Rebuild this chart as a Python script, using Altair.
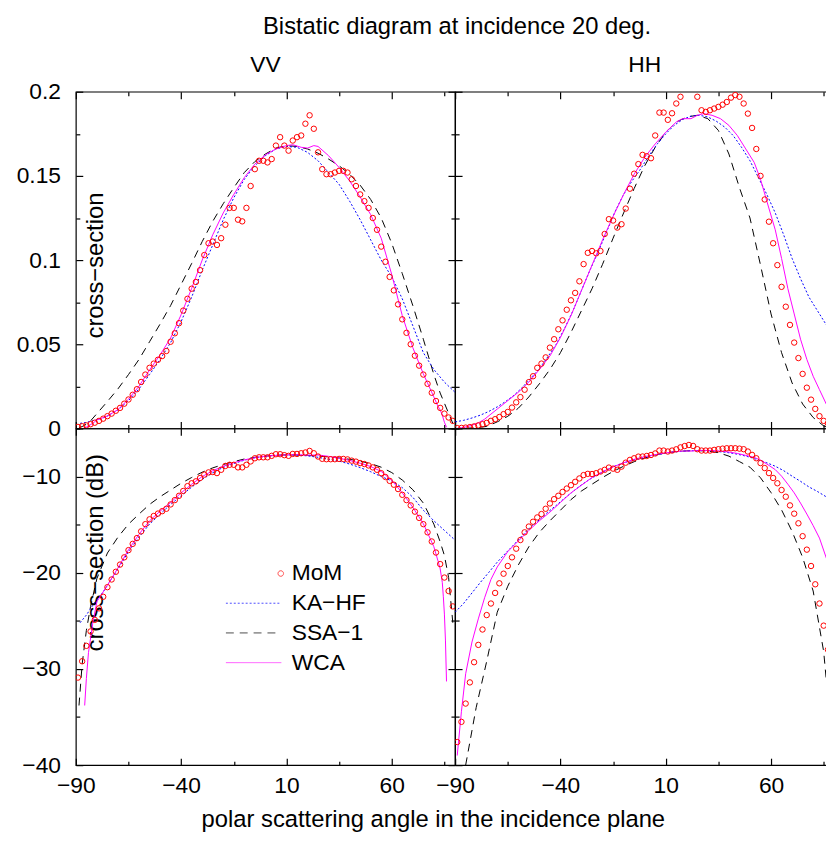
import altair as alt
import pandas as pd

FONT = "Liberation Sans"
RED, BLUE, BLACK, MAGENTA = "#ff0000", "#0000ff", "#000000", "#ff00ff"
SERIES = ["MoM", "KA−HF", "SSA−1", "WCA"]

MOM_ANGLE = [-89, -87, -85, -83, -81, -79, -77, -75, -73, -71,
             -69, -67, -65, -63, -61, -59, -57, -55, -53, -51,
             -49, -47, -45, -43, -41, -39, -37, -35, -33, -31,
             -29, -27, -25, -23, -21, -19, -17, -15, -13, -11,
             -9, -7, -5, -3, -1, 1, 3, 5, 7, 9,
             11, 13, 15, 17, 19, 21, 23, 25, 27, 29,
             31, 33, 35, 37, 39, 41, 43, 45, 47, 49,
             51, 53, 55, 57, 59, 61, 63, 65, 67, 69,
             71, 73, 75, 77, 79, 81, 83, 85, 87, 89]

VV_MOM_LIN = [0.0009, 0.0013, 0.0018, 0.0025, 0.0034, 0.0045, 0.0058, 0.0073, 0.0088, 0.0105,
              0.0122, 0.0147, 0.0172, 0.0200, 0.0233, 0.0276, 0.0320, 0.0360, 0.0385, 0.0408,
              0.0430, 0.0460, 0.0515, 0.0565, 0.0625, 0.0700, 0.0770, 0.0830, 0.0870, 0.0940,
              0.1030, 0.1100, 0.1110, 0.1090, 0.1130, 0.1210, 0.1310, 0.1310, 0.1240, 0.1230,
              0.1310, 0.1440, 0.1540, 0.1590, 0.1590, 0.1580, 0.1600, 0.1680, 0.1730, 0.1680,
              0.1650, 0.1710, 0.1730, 0.1740, 0.1810, 0.1860, 0.1780, 0.1640, 0.1540, 0.1510,
              0.1510, 0.1520, 0.1530, 0.1530, 0.1520, 0.1480, 0.1440, 0.1390, 0.1350, 0.1310,
              0.1250, 0.1180, 0.1080, 0.0990, 0.0900, 0.0820, 0.0737, 0.0648, 0.0568, 0.0500,
              0.0432, 0.0373, 0.0320, 0.0265, 0.0212, 0.0163, 0.0122, 0.0088, 0.0065, 0.0045]

VV_MOM_DB = [-30.9, -29.2, -27.6, -26.1, -24.9, -23.7, -22.5, -21.5, -20.7, -19.9,
             -19.15, -18.4, -17.65, -17.0, -16.4, -15.7, -14.95, -14.45, -14.1, -13.85,
             -13.6, -13.35, -12.9, -12.45, -12.0, -11.5, -11.0, -10.7, -10.5, -10.15,
             -9.8, -9.57, -9.53, -9.64, -9.3, -8.9, -8.78, -8.78, -9.05, -9.05,
             -8.78, -8.43, -8.1, -8.0, -8.0, -8.0, -7.85, -7.68, -7.68, -7.78,
             -7.85, -7.65, -7.65, -7.58, -7.5, -7.34, -7.58, -7.92, -8.16, -8.2,
             -8.2, -8.2, -8.17, -8.17, -8.22, -8.35, -8.45, -8.6, -8.7, -8.85,
             -9.05, -9.3, -9.65, -10.05, -10.45, -10.85, -11.3, -11.9, -12.45, -13.0,
             -13.65, -14.3, -14.95, -15.8, -16.75, -17.9, -19.1, -20.5, -21.9, -23.5]

HH_MOM_LIN = [0.0002, 0.0003, 0.0005, 0.0008, 0.0012, 0.0018, 0.0025, 0.0033, 0.0045, 0.0055,
              0.0068, 0.0085, 0.0098, 0.0124, 0.0155, 0.0186, 0.0230, 0.0275, 0.0310, 0.0360,
              0.0385, 0.0422, 0.0480, 0.0530, 0.0589, 0.0642, 0.0705, 0.0761, 0.0805, 0.0874,
              0.0976, 0.1043, 0.1054, 0.1040, 0.1054, 0.1155, 0.1243, 0.1235, 0.1193, 0.1213,
              0.1306, 0.1424, 0.1513, 0.1570, 0.1625, 0.1617, 0.1605, 0.1740, 0.1876, 0.1876,
              0.1833, 0.1872, 0.1930, 0.1970, 0.2080, 0.2130, 0.2080, 0.1970, 0.1890, 0.1880,
              0.1890, 0.1900, 0.1910, 0.1923, 0.1939, 0.1965, 0.1980, 0.1970, 0.1930, 0.1870,
              0.1785, 0.1660, 0.1500, 0.1360, 0.1228, 0.1100, 0.0970, 0.0841, 0.0723, 0.0615,
              0.0510, 0.0418, 0.0324, 0.0242, 0.0171, 0.0116, 0.0073, 0.0045, 0.0030, 0.0020]

HH_MOM_DB = [-37.6, -35.5, -33.6, -31.4, -29.3, -27.5, -25.9, -24.4, -23.2, -22.1,
             -21.1, -20.1, -19.3, -18.4, -17.5, -16.6, -15.8, -15.2, -14.7, -14.25,
             -13.9, -13.35, -12.8, -12.35, -12.0, -11.6, -11.25, -10.9, -10.55, -10.2,
             -9.85, -9.72, -9.74, -9.65, -9.48, -9.3, -9.07, -9.18, -9.3, -8.97,
             -8.56, -8.27, -8.1, -7.93, -7.92, -7.86, -7.76, -7.6, -7.3, -7.3,
             -7.4, -7.3, -7.17, -6.97, -6.83, -6.72, -6.82, -7.16, -7.3, -7.3,
             -7.3, -7.23, -7.16, -7.1, -7.06, -7.06, -7.06, -7.1, -7.16, -7.4,
             -7.75, -8.1, -8.6, -9.12, -9.64, -10.15, -10.7, -11.4, -12.1, -13.0,
             -13.86, -14.86, -16.2, -17.6, -19.3, -21.2, -23.2, -25.5, -28.0, -31.0]

# ---- VV curves ----
VV_KA_LIN_ANG = [-88, -85, -82, -80, -77, -75, -70, -65, -60, -55, -50, -45, -40, -35, -30, -25, -20,
                 -15, -10, -5, 0, 5, 10, 15, 20, 25, 30, 35, 40, 45, 50, 55, 60, 65, 70, 75, 80, 85, 90]
VV_KA_LIN = [0.003, 0.0036, 0.0046, 0.0052, 0.0063, 0.0074, 0.011, 0.0165, 0.0235, 0.032, 0.041, 0.051,
             0.0635, 0.078, 0.094, 0.109, 0.124, 0.137, 0.148, 0.156, 0.162, 0.166, 0.1675, 0.167, 0.164,
             0.159, 0.152, 0.145, 0.135, 0.124, 0.112, 0.100, 0.090, 0.077, 0.061, 0.045, 0.035, 0.0275, 0.0215]
VV_KA_DB_ANG = [-88, -85, -82, -80, -77, -75, -70, -65, -60, -55, -50, -45, -40, -35, -30, -25, -20,
                -15, -10, -5, 0, 5, 10, 15, 20, 25, 30, 35, 40, 45, 50, 55, 60, 65, 70, 75, 80, 85, 90]
VV_KA_DB = [-25.2, -24.4, -23.4, -22.8, -22.0, -21.3, -19.6, -17.8, -16.3, -14.95, -13.9, -12.9, -12.0,
            -11.1, -10.3, -9.6, -9.05, -8.65, -8.3, -8.05, -7.9, -7.8, -7.75, -7.77, -7.85, -8.0, -8.2,
            -8.4, -8.7, -9.07, -9.5, -10.0, -10.45, -11.15, -12.15, -13.5, -14.6, -15.6, -16.6]

VV_SSA_LIN_ANG = [-88.5, -87, -85, -83, -80, -75, -70, -65, -60, -55, -50, -45, -40, -35, -30, -25, -20,
                  -15, -10, -5, 0, 5, 10, 15, 20, 25, 30, 35, 40, 45, 50, 55, 60, 65, 70, 75, 80, 83,
                  85, 87, 89]
VV_SSA_LIN = [0.0004, 0.0011, 0.0025, 0.0045, 0.0088, 0.016, 0.0235, 0.032, 0.041, 0.0515, 0.062,
              0.073, 0.0855, 0.098, 0.111, 0.123, 0.1335, 0.143, 0.152, 0.1585, 0.163, 0.1665, 0.168,
              0.1675, 0.166, 0.1635, 0.160, 0.156, 0.151, 0.1445, 0.136, 0.125, 0.110, 0.092, 0.073,
              0.053, 0.032, 0.021, 0.015, 0.009, 0.003]
VV_SSA_DB_ANG = [-88.5, -87, -85, -83, -80, -75, -70, -65, -60, -55, -50, -45, -40, -35, -30, -25, -20,
                 -15, -10, -5, 0, 5, 10, 15, 20, 25, 30, 35, 40, 45, 50, 55, 60, 65, 70, 75, 80, 83,
                 85, 87, 89]
VV_SSA_DB = [-33.8, -29.5, -26.0, -23.5, -20.6, -17.95, -16.3, -14.95, -13.9, -12.9, -12.1, -11.4,
             -10.7, -10.1, -9.55, -9.1, -8.75, -8.45, -8.18, -8.0, -7.88, -7.79, -7.75, -7.76, -7.8,
             -7.87, -7.96, -8.07, -8.21, -8.4, -8.66, -9.03, -9.59, -10.36, -11.37, -12.76, -14.95,
             -16.8, -18.2, -20.5, -25.2]

VV_WCA_LIN_ANG = [-86, -85, -84, -82, -80, -75, -70, -65, -60, -55, -50, -45, -40, -35, -30, -25, -20,
                  -15, -10, -5, 0, 5, 10, 13, 17, 20, 23, 25, 30, 35, 40, 45, 50, 55, 60, 65, 70, 75,
                  80, 82, 83, 84, 85, 86]
VV_WCA_LIN = [0.0004, 0.0008, 0.0015, 0.003, 0.005, 0.0074, 0.0112, 0.0174, 0.0251, 0.0347, 0.0437,
              0.0537, 0.0676, 0.0832, 0.100, 0.115, 0.128, 0.139, 0.149, 0.157, 0.1625, 0.166, 0.168,
              0.1685, 0.167, 0.1665, 0.168, 0.1675, 0.162, 0.155, 0.147, 0.1375, 0.127, 0.113, 0.0914,
              0.067, 0.048, 0.0324, 0.0187, 0.013, 0.011, 0.0079, 0.0037, 0.0007]
VV_WCA_DB_ANG = [-85.8, -85, -84, -82, -80, -75, -70, -65, -60, -55, -50, -45, -40, -35, -30, -25, -20,
                 -15, -10, -5, 0, 5, 10, 15, 20, 25, 30, 35, 40, 45, 50, 55, 60, 65, 70, 75, 80, 82,
                 83, 84, 84.5, 85, 85.5, 86]
VV_WCA_DB = [-33.8, -31.0, -28.3, -25.3, -23.0, -21.3, -19.5, -17.6, -16.0, -14.6, -13.6, -12.7, -11.7,
             -10.8, -10.0, -9.4, -8.93, -8.57, -8.27, -8.04, -7.88, -7.8, -7.75, -7.73, -7.78, -7.76, -7.9,
             -8.1, -8.33, -8.62, -8.96, -9.47, -10.4, -11.7, -13.2, -14.9, -17.3, -18.8, -19.6, -21.0,
             -22.5, -24.3, -27.0, -31.3]

# ---- HH curves ----
HH_KA_ANG = [-90, -86, -82, -78, -74, -70, -66, -62, -58, -54, -50, -46, -42, -38, -34, -30, -26, -22,
             -18, -14, -10, -6, -2, 2, 6, 10, 14, 18, 22, 26, 30, 34, 38, 42, 46, 50, 54, 58, 62, 66,
             70, 74, 78, 82, 86, 90]
HH_KA_LIN = [0.0039, 0.0048, 0.0062, 0.0079, 0.0101, 0.0128, 0.016, 0.0197, 0.0245, 0.030, 0.0355,
             0.0425, 0.050, 0.0595, 0.070, 0.082, 0.094, 0.105, 0.117, 0.129, 0.139, 0.147, 0.154,
             0.162, 0.169, 0.175, 0.180, 0.1835, 0.1855, 0.186, 0.185, 0.1825, 0.179, 0.174, 0.167,
             0.159, 0.149, 0.139, 0.128, 0.115, 0.101, 0.089, 0.078, 0.070, 0.062, 0.055]
HH_KA_DB = [-24.1, -23.2, -22.1, -21.0, -19.96, -18.9, -17.96, -17.06, -16.1, -15.2, -14.5, -13.7,
            -13.0, -12.25, -11.55, -10.86, -10.27, -9.79, -9.32, -8.89, -8.57, -8.33, -8.12, -7.9,
            -7.72, -7.57, -7.45, -7.36, -7.32, -7.3, -7.33, -7.39, -7.47, -7.59, -7.77, -7.99, -8.27,
            -8.57, -8.93, -9.39, -9.96, -10.5, -11.08, -11.55, -12.08, -12.6]

HH_SSA_ANG = [-85, -80, -75, -70, -65, -60, -55, -50, -45, -40, -35, -30, -25, -20, -15, -10, -5, 0,
              5, 10, 15, 20, 25, 30, 35, 40, 45, 50, 55, 60, 65, 70, 75, 80, 85, 87]
HH_SSA_LIN = [0.0001, 0.0004, 0.0012, 0.0039, 0.0072, 0.012, 0.0187, 0.0265, 0.035, 0.045, 0.057,
              0.070, 0.083, 0.0975, 0.113, 0.128, 0.1425, 0.156, 0.167, 0.176, 0.182, 0.185, 0.186,
              0.184, 0.177, 0.163, 0.143, 0.125, 0.097, 0.068, 0.045, 0.027, 0.0145, 0.0065, 0.0015,
              0.0005]
HH_SSA_DB = [-40.0, -34.0, -29.2, -24.1, -21.4, -19.2, -17.3, -15.8, -14.6, -13.5, -12.4, -11.5,
             -10.8, -10.1, -9.47, -8.93, -8.46, -8.07, -7.77, -7.54, -7.4, -7.33, -7.3, -7.35, -7.52,
             -7.88, -8.45, -9.03, -10.13, -11.67, -13.47, -15.7, -18.4, -21.9, -28.2, -33.0]

HH_WCA_ANG = [-89, -87, -85, -82, -79, -76, -73, -70, -65, -60, -55, -50, -45, -40, -35, -30, -25,
              -20, -15, -10, -5, 0, 5, 10, 15, 18, 22, 25, 28, 32, 36, 40, 44, 48, 52, 55, 58, 62,
              65, 68, 71, 74, 77, 80, 83, 86.6]
HH_WCA_LIN = [0.0001, 0.0004, 0.0009, 0.0019, 0.0033, 0.0055, 0.0085, 0.0115, 0.0165, 0.0215, 0.0275,
              0.035, 0.043, 0.054, 0.067, 0.082, 0.097, 0.112, 0.126, 0.139, 0.151, 0.161, 0.169,
              0.176, 0.182, 0.184, 0.184, 0.186, 0.187, 0.186, 0.184, 0.180, 0.174, 0.166, 0.158,
              0.148, 0.135, 0.118, 0.101, 0.083, 0.068, 0.053, 0.041, 0.031, 0.023, 0.0135]
HH_WCA_DB = [-39.0, -34.4, -30.5, -27.2, -24.8, -22.6, -20.7, -19.4, -17.8, -16.7, -15.6, -14.6,
             -13.7, -12.7, -11.7, -10.9, -10.1, -9.5, -9.0, -8.57, -8.21, -7.93, -7.72, -7.54, -7.4,
             -7.35, -7.35, -7.3, -7.28, -7.3, -7.35, -7.45, -7.6, -7.8, -8.01, -8.3, -8.7, -9.28,
             -9.96, -10.8, -11.7, -12.76, -13.9, -15.1, -16.4, -18.7]

X_LABELS = [-90, -40, 10, 60]
X_TICKS = [-90, -65, -40, -15, 10, 35, 60, 85]
Y_LIN_LABELS = [0, 0.05, 0.1, 0.15, 0.2]
Y_LIN_TICKS = [0, 0.025, 0.05, 0.075, 0.1, 0.125, 0.15, 0.175, 0.2]
Y_DB_LABELS = [-40, -30, -20, -10]
Y_DB_TICKS = [-40, -35, -30, -25, -20, -15, -10, -5]

W = 382.8
H = 340
CIRCLE_PATH = "M1.08,0A0.1,0.1,0,1,1,0.88,0A0.1,0.1,0,1,1,1.08,0Z"
LINE_PATH = "M-1,0L1,0"
TXT = dict(titleFont=FONT, titleColor="black", titleFontWeight="normal", titleBaseline="alphabetic",
           titleAlign="center", titleAngle=0)


def df(ang, val):
    return pd.DataFrame({"angle": ang, "value": val})


def tick_axis(orient, offset, values, test, **title):
    kw = dict(orient=orient, offset=offset, values=values, labels=False, domain=False,
              grid=False, ticks=True, tickColor="black", tickWidth=1.2,
              tickSize={"condition": {"test": test, "value": 7}, "value": 4})
    if title:
        kw.update(TXT)
        kw.update(title)
    else:
        kw["title"] = None
    return alt.Axis(**kw)


def panel(data, kind, col, row):
    xs = alt.Scale(domain=[-90, 90], nice=False, zero=False)
    if kind == "lin":
        ys = alt.Scale(domain=[0, 0.2], nice=False, zero=False)
        ylab, ytick, ytest, ytitle, ytitle_y, yfmt = (Y_LIN_LABELS, Y_LIN_TICKS,
            "round(datum.value * 40) % 2 == 0", "cross−section", 175, "~g")
    else:
        ys = alt.Scale(domain=[-40, -5], nice=False, zero=False)
        ylab, ytick, ytest, ytitle, ytitle_y, yfmt = (Y_DB_LABELS, Y_DB_TICKS,
            "datum.value % 10 == 0", "cross−section (dB)", 125, "d")
    xtest = "(datum.value + 90) % 50 == 0"

    if row == 1:
        xlab_axis = alt.Axis(orient="bottom", values=X_LABELS, ticks=False, domain=False, grid=False,
                             labelFontSize=23, labelColor="black", labelBaseline="alphabetic",
                             labelPadding=27.5, labelFlush=False, labelOverlap=False, labelAngle=0,
                             format="d",
                             title="polar scattering angle in the incidence plane" if col == 0 else None,
                             titleX=360.5, titleY=62, titleFontSize=24, titleFontWeight="normal",
                             titleBaseline="alphabetic", titleAlign="center", titleColor="black")
    else:
        xlab_axis = None
    if col == 0:
        ylab_axis = alt.Axis(orient="left", values=ylab, ticks=False, domain=False, grid=False,
                             labelFontSize=23, labelColor="black", labelPadding=15.5,
                             labelBaseline="middle", labelFlush=False, labelOverlap=False,
                             format=yfmt, title=ytitle, titleAngle=270, titleX=26.5, titleY=ytitle_y,
                             titleBaseline="alphabetic", titleAlign="center", titleFontSize=24,
                             titleFontWeight="normal", titleColor="black")
    else:
        ylab_axis = None

    # axis drawing the inward ticks of the bottom edge (carries the figure title in the first panel)
    if row == 0 and col == 0:
        bottom_ticks = tick_axis("top", -H, X_TICKS, xtest,
                                 title="Bistatic diagram at incidence 20 deg.",
                                 titleX=384.5, titleY=-399, titleFontSize=24)
    else:
        bottom_ticks = tick_axis("top", -H, X_TICKS, xtest)
    # axis drawing the inward ticks of the top edge (carries the column header)
    if row == 0:
        top_ticks = tick_axis("bottom", -H, X_TICKS, xtest, title="VV" if col == 0 else "HH",
                              titleX=191, titleY=-20, titleFontSize=23)
    else:
        top_ticks = tick_axis("bottom", -H, X_TICKS, xtest)

    mom, ka, ssa, wca = data
    l1 = alt.Chart(mom).mark_point(shape="circle", filled=False, color=RED, size=30,
                                   strokeWidth=1, clip=True, opacity=1).encode(
        x=alt.X("angle:Q", scale=xs, axis=xlab_axis),
        y=alt.Y("value:Q", scale=ys, axis=ylab_axis))
    l2 = alt.Chart(ka).mark_line(color=BLUE, strokeDash=[2, 2], strokeWidth=1, clip=True).encode(
        x=alt.X("angle:Q", scale=xs, axis=bottom_ticks),
        y=alt.Y("value:Q", scale=ys, axis=tick_axis("right", -W, ytick, ytest)))
    l3 = alt.Chart(ssa).mark_line(color=BLACK, strokeDash=[8, 6], strokeWidth=1, clip=True).encode(
        x=alt.X("angle:Q", scale=xs, axis=top_ticks),
        y=alt.Y("value:Q", scale=ys, axis=tick_axis("left", -W, ytick, ytest)))
    l4 = alt.Chart(wca).mark_line(color=MAGENTA, strokeWidth=1, clip=True).encode(
        x=alt.X("angle:Q", scale=xs, axis=None),
        y=alt.Y("value:Q", scale=ys, axis=None))
    layers = [l3, l2, l4, l1]

    if kind == "db" and col == 0:
        leg = alt.Legend(orient="none", legendX=151, legendY=131.5, title=None, labelFont=FONT,
                         labelFontSize=23, labelColor="black", symbolSize=3136, symbolStrokeWidth=1,
                         labelOffset=10, clipHeight=30, rowPadding=0, padding=0)
        leg_df = pd.DataFrame({"series": SERIES, "angle": [-500] * 4, "value": [-20] * 4})
        l5 = alt.Chart(leg_df).mark_point(filled=False, clip=True, strokeWidth=1).encode(
            x=alt.X("angle:Q", scale=xs, axis=None),
            y=alt.Y("value:Q", scale=ys, axis=None),
            color=alt.Color("series:N", scale=alt.Scale(domain=SERIES, range=[RED, BLUE, BLACK, MAGENTA]), legend=leg),
            shape=alt.Shape("series:N", scale=alt.Scale(domain=SERIES, range=[CIRCLE_PATH, LINE_PATH, LINE_PATH, LINE_PATH]), legend=leg),
            strokeDash=alt.StrokeDash("series:N", scale=alt.Scale(domain=SERIES, range=[[1, 0], [2, 2], [8, 6], [1, 0]]), legend=leg))
        layers.append(l5)

    return alt.layer(*layers).resolve_axis(x="independent", y="independent").properties(width=W, height=H)


tl = panel((df(MOM_ANGLE, VV_MOM_LIN), df(VV_KA_LIN_ANG, VV_KA_LIN), df(VV_SSA_LIN_ANG, VV_SSA_LIN),
            df(VV_WCA_LIN_ANG, VV_WCA_LIN)), "lin", 0, 0)
tr = panel((df(MOM_ANGLE, HH_MOM_LIN), df(HH_KA_ANG, HH_KA_LIN), df(HH_SSA_ANG, HH_SSA_LIN),
            df(HH_WCA_ANG, HH_WCA_LIN)), "lin", 1, 0)
bl = panel((df(MOM_ANGLE, VV_MOM_DB), df(VV_KA_DB_ANG, VV_KA_DB), df(VV_SSA_DB_ANG, VV_SSA_DB),
            df(VV_WCA_DB_ANG, VV_WCA_DB)), "db", 0, 1)
br = panel((df(MOM_ANGLE, HH_MOM_DB), df(HH_KA_ANG, HH_KA_DB), df(HH_SSA_ANG, HH_SSA_DB),
            df(HH_WCA_ANG, HH_WCA_DB)), "db", 1, 1)

chart = alt.concat(tl, tr, bl, br, columns=2, spacing=0, bounds="flush").resolve_scale(
    color="independent", shape="independent", strokeDash="independent"
).resolve_legend(
    color="independent", shape="independent", strokeDash="independent"
).properties(
    autosize=alt.AutoSizeParams(type="none"),
    padding={"left": 68.5, "top": 80.5, "right": 757.5, "bottom": 746.5},
).configure(font=FONT).configure_view(stroke="black", strokeWidth=1.2)

chart.save("out.html", embed_options={"renderer": "svg", "actions": False})
